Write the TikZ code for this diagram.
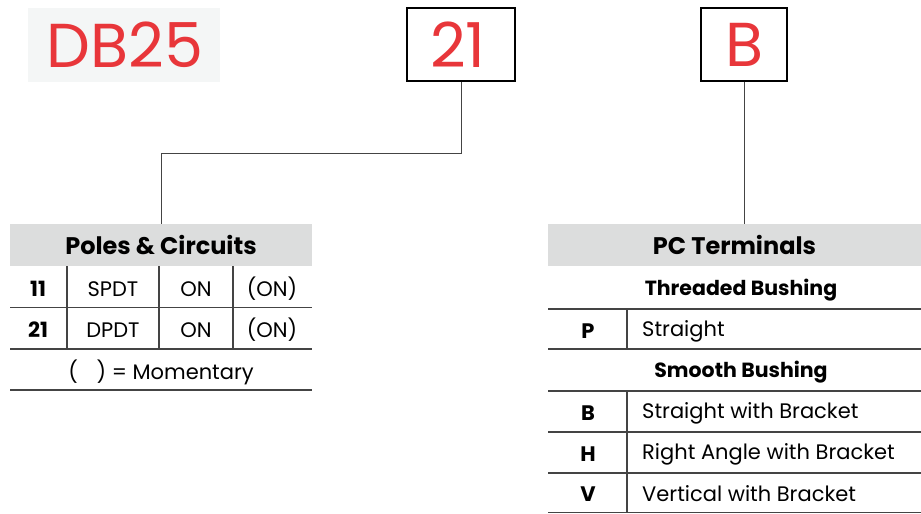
\documentclass[tikz,border=0pt]{standalone}
\usepackage{fontspec}
\setmainfont{Poppins}
\begin{document}
\begin{tikzpicture}[x=1pt,y=1pt,
  codebox/.style={draw=black,line width=2.4pt,inner sep=0pt},
  redtxt/.style={text=dbred,font=\fontsize{62}{62}\selectfont},
  conn/.style={draw=linegray,line width=1pt},
  rule/.style={draw=linegray,line width=1.2pt},
  hdr/.style={fill=hdrgray,inner sep=0pt,font=\bfseries\fontsize{24}{24}\selectfont},
  cell/.style={inner sep=0pt,font=\fontsize{21}{21}\selectfont},
  bcell/.style={inner sep=0pt,font=\bfseries\fontsize{21}{21}\selectfont},
  sub/.style={inner sep=0pt,font=\bfseries\fontsize{20.5}{20.5}\selectfont}]
\definecolor{dbred}{HTML}{E8363A}
\definecolor{hdrgray}{HTML}{DCDDDD}
\definecolor{bggray}{HTML}{F4F6F6}
\definecolor{linegray}{HTML}{444444}
\useasboundingbox (0,0) rectangle (921,-514);
% code parts
\node[fill=bggray,minimum width=192pt,minimum height=74pt,inner sep=0pt] (db) at (124,-45) {};
\node[redtxt] (dbt) at (125,-45) {DB25};
\node[codebox,minimum width=108pt,minimum height=73pt] (n21) at (461,-44.5) {};
\node[redtxt] (n21t) at (458,-45) {21};
\node[codebox,minimum width=86pt,minimum height=73pt] (nb) at (744,-44.5) {};
\node[redtxt] (nbt) at (744,-45) {B};
% headers
\node[hdr,minimum width=302pt,minimum height=42pt] (poles) at (161,-245) {Poles \& Circuits};
\node[hdr,minimum width=373pt,minimum height=42pt] (pc) at (734.5,-245) {PC Terminals};
% connectors
\draw[conn] (n21.south) -- ++(0,-71) -| (poles.north);
\draw[conn] (nb.south) -- (nb.south |- pc.north);
% left table
\node[bcell] (c11) at (38,-289) {11};
\node[cell] (s1) at (113,-289) {SPDT};
\node[cell] (o1) at (196,-289) {ON};
\node[cell] (m1) at (272,-289) {(ON)};
\node[bcell] (c21) at (38,-330) {21};
\node[cell] (s2) at (113,-330) {DPDT};
\node[cell] (o2) at (196,-330) {ON};
\node[cell] (m2) at (272,-330) {(ON)};
\node[cell] (mom) at (161,-372) {(\hspace{0.9em}) = Momentary};
\draw[rule] (10,-307.5) -- (312,-307.5);
\draw[rule] (10,-349) -- (312,-349);
\draw[rule] (10,-390) -- (312,-390);
\draw[rule] (67,-266) -- (67,-349);
\draw[rule] (159,-266) -- (159,-349);
\draw[rule] (233,-266) -- (233,-349);
% right table
\node[sub] (tb) at (741,-290) {Threaded Bushing};
\node[bcell] (p) at (588,-331) {P};
\node[cell,anchor=west] (pt) at (642,-331) {Straight};
\node[sub] (sb) at (741,-372) {Smooth Bushing};
\node[bcell] (b) at (588,-413) {B};
\node[cell,anchor=west] (bt) at (642,-413) {Straight with Bracket};
\node[bcell] (h) at (588,-454) {H};
\node[cell,anchor=west] (ht) at (642,-454) {Right Angle with Bracket};
\node[bcell] (v) at (588,-494) {V};
\node[cell,anchor=west] (vt) at (642,-494) {Vertical with Bracket};
\draw[rule] (548,-309) -- (921,-309);
\draw[rule] (548,-349) -- (921,-349);
\draw[rule] (548,-391) -- (921,-391);
\draw[rule] (548,-432) -- (921,-432);
\draw[rule] (548,-473) -- (921,-473);
\draw[rule] (548,-512.5) -- (921,-512.5);
\draw[rule] (627,-309) -- (627,-349);
\draw[rule] (627,-391) -- (627,-512.5);
\end{tikzpicture}
\end{document}
